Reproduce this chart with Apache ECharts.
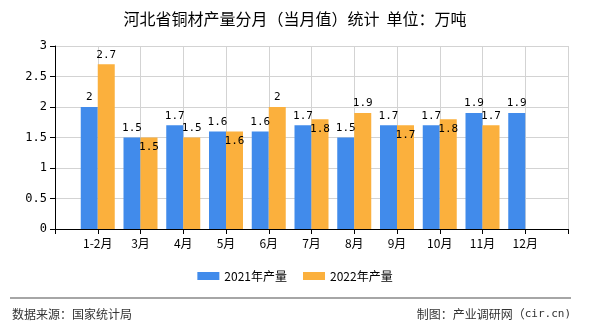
<!DOCTYPE html>
<html>
<head>
<meta charset="utf-8">
<script src="https://cdn.jsdelivr.net/npm/echarts@6/dist/echarts.min.js"></script>
<style>
  html, body { margin: 0; padding: 0; background: #fff; }
  #chart { width: 590px; height: 330px; }
</style>
</head>
<body>
<div id="chart"></div>
<script>
// Months (empty slots pad both ends of the axis)
var months = ['', '1-2月', '3月', '4月', '5月', '6月', '7月', '8月', '9月', '10月', '11月', '12月', ''];
// Monthly copper product output, 10k tonnes
var output2021 = [null, 2, 1.5, 1.7, 1.6, 1.6, 1.7, 1.5, 1.7, 1.7, 1.9, 1.9, null];
var output2022 = [null, 2.7, 1.5, 1.5, 1.6, 2, 1.8, 1.9, 1.7, 1.8, 1.7, null, null];
var yTicks = [0, 0.5, 1, 1.5, 2, 2.5, 3];

var CJK = '"Noto Sans CJK SC", "Microsoft YaHei", sans-serif';
var MONO = '"DejaVu Sans Mono", "Liberation Mono", monospace';

function toData(arr) {
  return arr.map(function (v) { return v == null ? '-' : v; });
}

// 2022 labels that would collide with the 2021 label next to them go inside the bar
var data2022 = output2022.map(function (v, i) {
  if (v == null) return '-';
  var other = output2021[i];
  if (other != null && Math.abs(v - other) < 0.15) {
    return { value: v, label: { position: 'insideTop', distance: 4 } };
  }
  return v;
});

var chart = echarts.init(document.getElementById('chart'));
chart.setOption({
  animation: false,
  title: {
    text: '河北省铜材产量分月（当月值）统计  单位：万吨',
    left: 'center',
    top: 6,
    textStyle: { fontFamily: CJK, fontSize: 16, fontWeight: 'normal', color: '#000' }
  },
  grid: { left: 55, right: 22, top: 46, bottom: 101 },
  legend: {
    bottom: 43,
    left: 'center',
    itemWidth: 22,
    itemHeight: 8,
    itemGap: 16,
    icon: 'rect',
    textStyle: { fontFamily: CJK, fontSize: 12, color: '#000' },
    data: ['2021年产量', '2022年产量']
  },
  xAxis: {
    type: 'category',
    data: months,
    boundaryGap: false,
    axisLine: { lineStyle: { color: '#000' } },
    axisTick: { show: true, length: 5, lineStyle: { color: '#000' } },
    axisLabel: { interval: 0, margin: 8, fontFamily: CJK, fontSize: 12, color: '#000' },
    splitLine: { show: true, lineStyle: { color: '#d3d3d3' } }
  },
  yAxis: {
    type: 'value',
    min: yTicks[0],
    max: yTicks[yTicks.length - 1],
    interval: 0.5,
    axisLine: { show: true, lineStyle: { color: '#000' } },
    axisTick: { show: true, length: 5, lineStyle: { color: '#000' } },
    axisLabel: { margin: 8, fontFamily: MONO, fontSize: 12, color: '#000' },
    splitLine: { show: true, lineStyle: { color: '#d3d3d3' } }
  },
  series: [
    {
      name: '2021年产量',
      type: 'bar',
      data: toData(output2021),
      barWidth: 17,
      barGap: '0%',
      itemStyle: { color: '#418BEB' },
      label: { show: true, position: 'top', distance: 4, fontFamily: MONO, fontSize: 11, color: '#000' }
    },
    {
      name: '2022年产量',
      type: 'bar',
      data: data2022,
      barWidth: 17,
      barGap: '0%',
      itemStyle: { color: '#FBB03D' },
      label: { show: true, position: 'top', distance: 4, fontFamily: MONO, fontSize: 11, color: '#000' }
    }
  ],
  graphic: [
    {
      type: 'line',
      shape: { x1: 10, y1: 298, x2: 571, y2: 298 },
      style: { stroke: '#888', lineWidth: 1.5 }
    },
    {
      type: 'text',
      left: 12,
      top: 308,
      style: { text: '数据来源：国家统计局', fontFamily: CJK, fontSize: 12, fill: '#333' }
    },
    {
      type: 'text',
      right: 19,
      top: 308,
      style: {
        text: '{c|制图：产业调研网（}{m|cir.cn)}',
        rich: {
          c: { fontFamily: CJK, fontSize: 12, fill: '#333', color: '#333' },
          m: { fontFamily: MONO, fontSize: 11, fill: '#333', color: '#333' }
        }
      }
    }
  ]
});
</script>
</body>
</html>
